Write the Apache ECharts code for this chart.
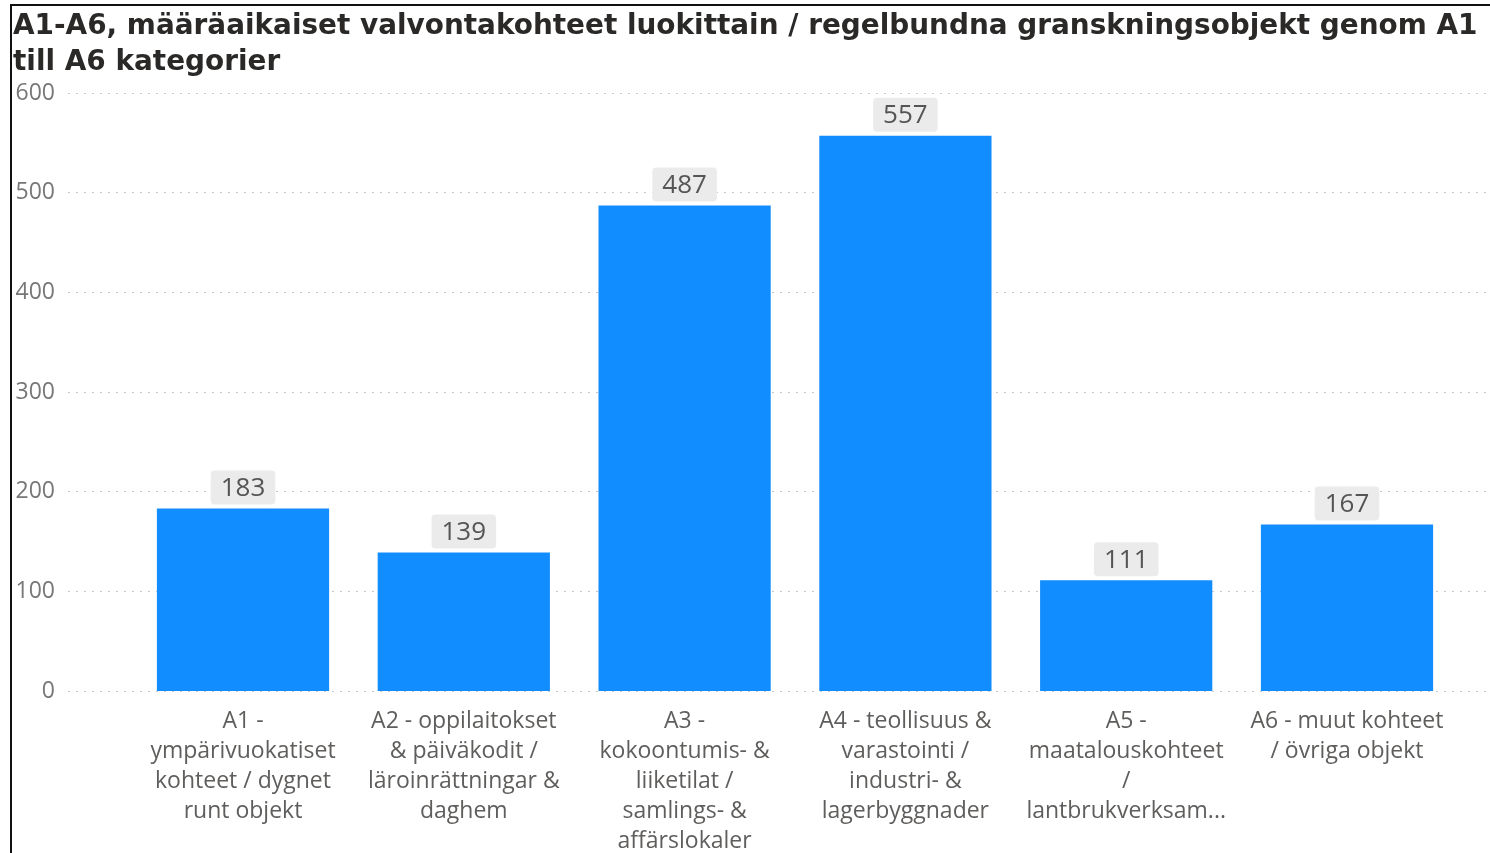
<!DOCTYPE html>
<html>
   <head>
       <meta charset="utf-8">
       <style>html,body{margin:0;padding:0;background:#fff;}</style>
   </head>
   <body>
       <div id="container" style="height: 853px;width: 1490px;"></div>
   </body>
</html>
<script type="text/javascript" src="https://cdn.jsdelivr.net/npm/echarts@6/dist/echarts.min.js"></script>
<script type="text/javascript">
    // data
    const titleText = 'A1-A6, määräaikaiset valvontakohteet luokittain / regelbundna granskningsobjekt genom A1\ntill A6 kategorier';
    const categories = [
        'A1 -\nympärivuokatiset\nkohteet / dygnet\nrunt objekt',
        'A2 - oppilaitokset\n& päiväkodit /\nläroinrättningar &\ndaghem',
        'A3 -\nkokoontumis- &\nliiketilat /\nsamlings- &\naffärslokaler',
        'A4 - teollisuus &\nvarastointi /\nindustri- &\nlagerbyggnader',
        'A5 -\nmaatalouskohteet\n/\nlantbrukverksam...',
        'A6 - muut kohteet\n/ övriga objekt'
    ];
    const values = [183, 139, 487, 557, 111, 167];
    const yTicks = [0, 100, 200, 300, 400, 500, 600];

    drawChart();
    function drawChart() {
        const dom = document.getElementById("container");
        const myChart = echarts.init(dom);
        const font = '"Open Sans", "DejaVu Sans", sans-serif';
        const yMin = yTicks[0];
        const yMax = yTicks[yTicks.length - 1];
        const step = yTicks[1] - yTicks[0];
        const option = {
            backgroundColor: '#fff',
            animation: false,
            title: {
                text: titleText,
                left: 8,
                top: 4,
                textStyle: {
                    fontFamily: '"DejaVu Sans", sans-serif',
                    fontSize: 27.9,
                    fontWeight: 'bold',
                    color: '#2a2928',
                    lineHeight: 36
                }
            },
            // left and top frame of the screenshot
            graphic: [
                {type: 'line', shape: {x1: 11, y1: 4, x2: 11, y2: 853}, style: {stroke: '#111', lineWidth: 2}},
                {type: 'line', shape: {x1: 10, y1: 5, x2: 1490, y2: 5}, style: {stroke: '#111', lineWidth: 2}}
            ],
            grid: [
                {left: 68, right: 0, top: 93, bottom: 162, outerBoundsMode: 'none'},
                {left: 132.6, right: 32.6, top: 93, bottom: 162, outerBoundsMode: 'none'}
            ],
            xAxis: [
                {type: 'value', gridIndex: 0, show: false},
                {
                    type: 'category',
                    gridIndex: 1,
                    data: categories,
                    axisLine: {show: false},
                    axisTick: {show: false},
                    axisLabel: {
                        interval: 0,
                        margin: 16,
                        fontFamily: font,
                        fontSize: 23,
                        lineHeight: 29.8,
                        color: '#605e5c'
                    }
                }
            ],
            yAxis: [
                {
                    type: 'value',
                    gridIndex: 0,
                    min: yMin,
                    max: yMax,
                    interval: step,
                    axisLine: {show: false},
                    axisTick: {show: false},
                    axisLabel: {
                        margin: 13,
                        fontFamily: font,
                        fontSize: 23,
                        color: '#777'
                    },
                    splitLine: {
                        lineStyle: {color: '#c8c8c8', type: [2, 6], width: 1}
                    }
                },
                {
                    type: 'value',
                    gridIndex: 1,
                    min: yMin,
                    max: yMax,
                    interval: step,
                    show: false
                }
            ],
            series: [
                {
                    type: 'bar',
                    xAxisIndex: 1,
                    yAxisIndex: 1,
                    data: values,
                    barWidth: '78%',
                    itemStyle: {color: '#118DFF'},
                    label: {
                        show: true,
                        position: 'top',
                        distance: 4,
                        fontFamily: font,
                        fontSize: 26,
                        color: '#555',
                        backgroundColor: '#ebebeb',
                        borderRadius: 4,
                        padding: [5, 10, 3, 10]
                    }
                }
            ]
        };
        myChart.setOption(option, true);
    }
</script>
